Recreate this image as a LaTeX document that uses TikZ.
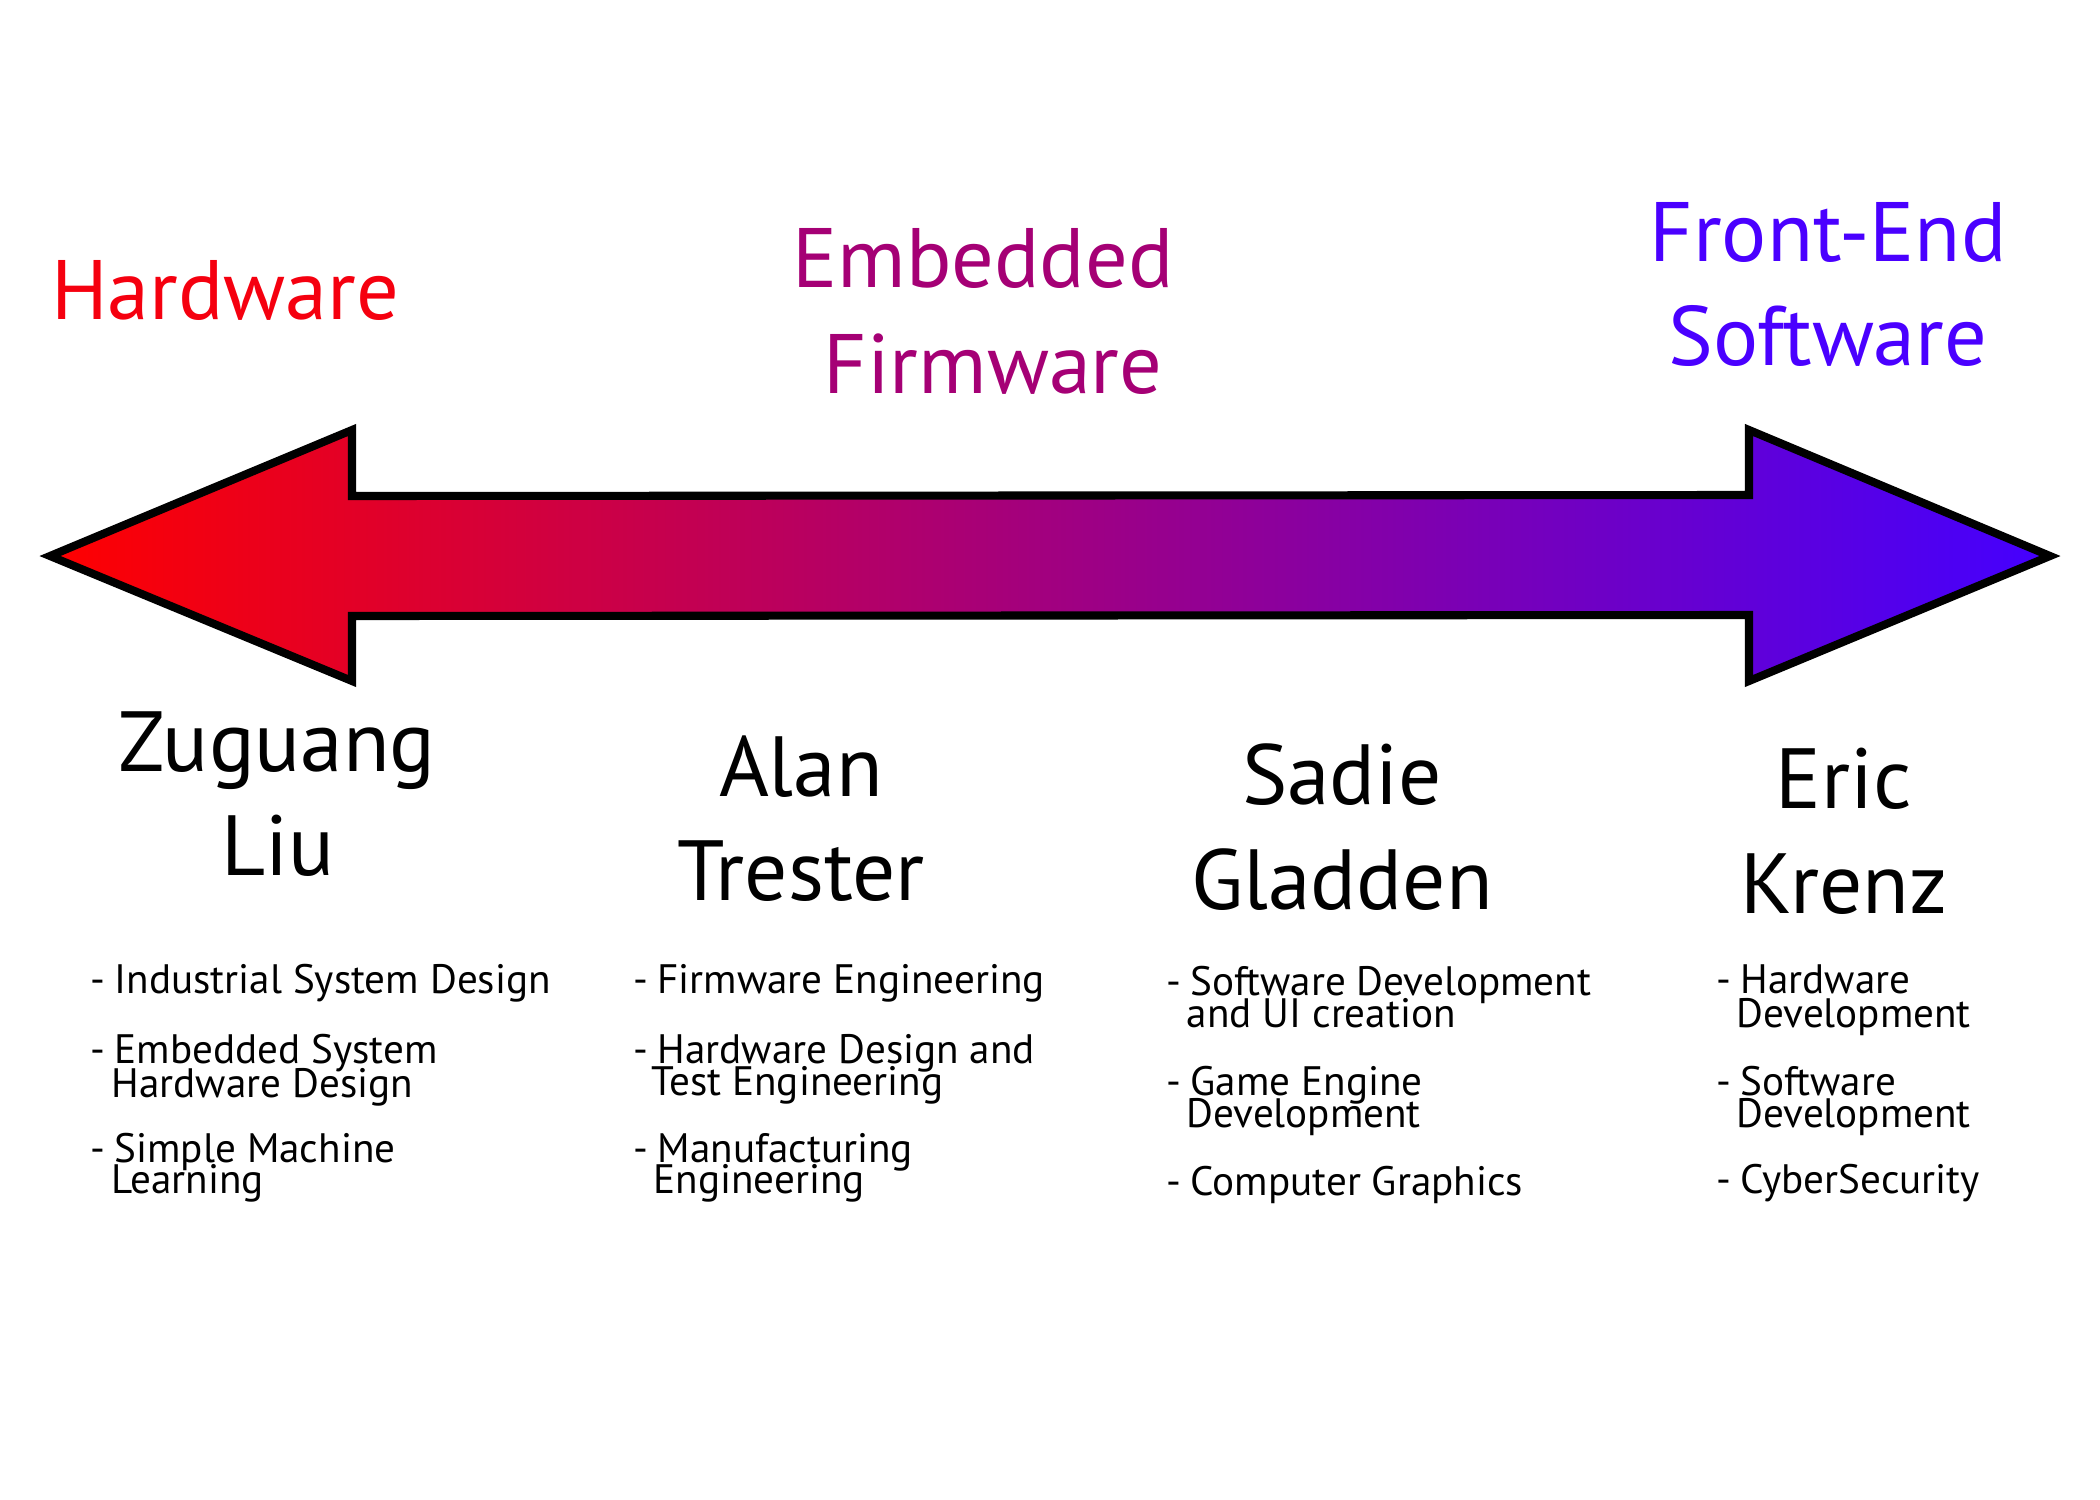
\documentclass[tikz,border=0pt]{standalone}
\usepackage{fontspec}
\setmainfont{PT Sans}
\definecolor{hwred}{HTML}{F5000F}
\definecolor{fwmag}{HTML}{A50075}
\definecolor{swblue}{HTML}{4A00FF}
\definecolor{arrowleft}{HTML}{FF0000}
\definecolor{arrowright}{HTML}{4400FF}
\tikzset{
  heading/.style={anchor=base, inner sep=0pt, font=\fontsize{24}{29}\selectfont},
  person/.style={anchor=base, inner sep=0pt, font=\fontsize{24.3}{29}\selectfont},
  skill/.style={anchor=base west, inner sep=0pt, font=\fontsize{11.7}{10}\selectfont},
}
\newcommand{\dashitem}{\llap{-\hspace{2.6pt}}}
\begin{document}
\begin{tikzpicture}[x=0.1mm, y=-0.1mm]
  % Page frame, same size as the reference
  \useasboundingbox (0,0) rectangle (2100,1500);

  % Corner points of the double arrow
  \coordinate (L) at (50,556);     % left tip
  \coordinate (R) at (2050,556);   % right tip

  % Draw the double arrow with the red-to-blue fill
  \draw[line width=2.3pt, line join=miter, left color=arrowleft, right color=arrowright]
    (L) -- (352,430) -- (352,496) -- (1749,495) -- (1749,430) -- (R)
    -- (1749,681) -- (1749,615) -- (352,616) -- (352,681) -- cycle;

  % Headings above the arrow
  \node[heading, hwred] (hw) at (225,319) {Hardware};
  \node[heading, fwmag] (fwa) at (983,287) {Embedded};
  \node[heading, fwmag] (fwb) at (993,393) {Firmware};
  \node[heading, swblue] (swa) at (1828,261) {Front-End};
  \node[heading, swblue] (swb) at (1828,365) {Software};

  % Names below the arrow
  \node[person] (liua) at (277,771) {Zuguang};
  \node[person] (liub) at (278,875) {Liu};
  \node[person] (trestera) at (801,796) {Alan};
  \node[person] (testerb) at (801,900) {Trester};
  \node[person] (gladdena) at (1342,804) {Sadie};
  \node[person] (gladdenb) at (1342,909) {Gladden};
  \node[person] (krenza) at (1844,808) {Eric};
  \node[person] (krenzb) at (1844,913) {Krenz};

  % Skills of Zuguang Liu
  \node[skill] (lsa) at (114,993) {\dashitem Industrial System Design};
  \node[skill] (lsb) at (114,1063) {\dashitem Embedded System};
  \node[skill] (lsc) at (111,1097) {Hardware Design};
  \node[skill] (lsd) at (114,1162) {\dashitem Simple Machine};
  \node[skill] (lse) at (111,1193) {Learning};

  % Skills of Alan Trester
  \node[skill] (tsa) at (657,993) {\dashitem Firmware Engineering};
  \node[skill] (tsb) at (657,1063) {\dashitem Hardware Design and};
  \node[skill] (tsc) at (651,1095) {Test Engineering};
  \node[skill] (tsd) at (657,1162) {\dashitem Manufacturing};
  \node[skill] (tse) at (653,1193) {Engineering};

  % Skills of Sadie Gladden
  \node[skill] (gsa) at (1190,995) {\dashitem Software Development};
  \node[skill] (gsb) at (1186,1027) {and UI creation};
  \node[skill] (gsc) at (1190,1095) {\dashitem Game Engine};
  \node[skill] (gsd) at (1186,1127) {Development};
  \node[skill] (gse) at (1190,1195) {\dashitem Computer Graphics};

  % Skills of Eric Krenz
  \node[skill] (ksa) at (1740,993) {\dashitem Hardware};
  \node[skill] (ksb) at (1736,1027) {Development};
  \node[skill] (ksc) at (1740,1095) {\dashitem Software};
  \node[skill] (ksd) at (1736,1127) {Development};
  \node[skill] (kse) at (1740,1193) {\dashitem CyberSecurity};
\end{tikzpicture}
\end{document}
